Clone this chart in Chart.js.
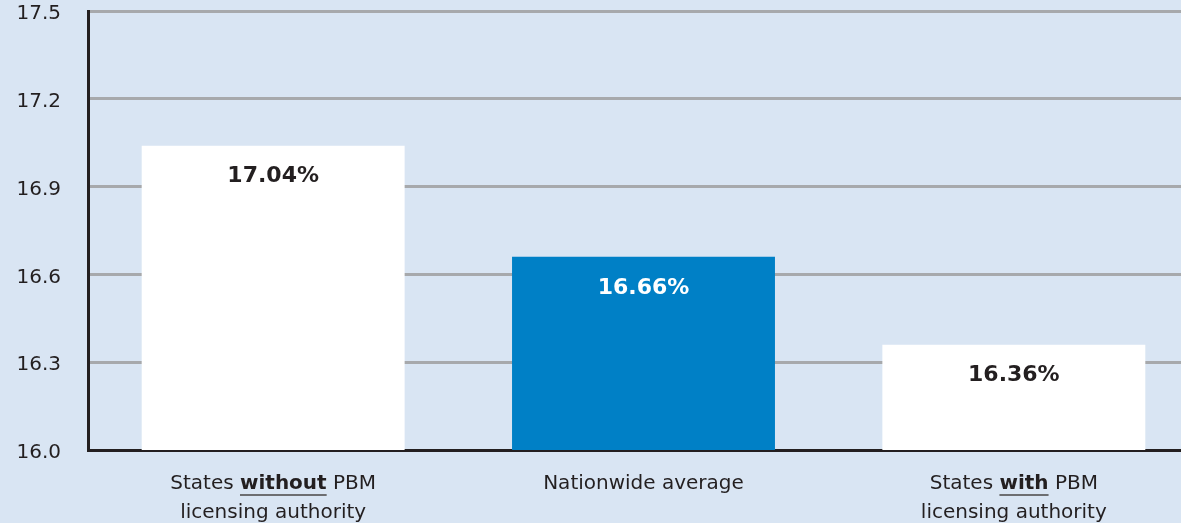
<!DOCTYPE html>
<html>
<head>
<meta charset="utf-8">
<script src="https://cdn.jsdelivr.net/npm/chart.js@4"></script>
<style>
  html, body { margin: 0; padding: 0; background: #d9e5f3; overflow: hidden; }
  #wrap { width: 1199px; height: 523px; }
</style>
</head>
<body>
<div id="wrap"><canvas id="c" width="1199" height="523"></canvas></div>
<script>
// data
const categories = ['without', 'average', 'with'];
const labelLines = [
  [['States ', false], ['without', true], [' PBM', false]],
  [['Nationwide average', false]],
  [['States ', false], ['with', true], [' PBM', false]]
];
const secondLines = ['licensing authority', '', 'licensing authority'];
const values = [17.04, 16.66, 16.36];
const valueLabels = ['17.04%', '16.66%', '16.36%'];
const yTicks = [16.0, 16.3, 16.6, 16.9, 17.2, 17.5];

const FONT = '"DejaVu Sans", sans-serif';
const DARK = '#231f20';

// value labels inside the bars + the two-line category labels under the axis
const labelsPlugin = {
  id: 'labels',
  afterDatasetsDraw(chart) {
    const ctx = chart.ctx;
    const meta = chart.getDatasetMeta(0);
    ctx.save();
    ctx.textAlign = 'center';
    ctx.textBaseline = 'middle';
    ctx.font = 'bold 22px ' + FONT;
    meta.data.forEach((bar, i) => {
      ctx.fillStyle = i === 1 ? '#ffffff' : DARK;
      ctx.fillText(valueLabels[i], bar.x, bar.y + 31);
    });

    const xs = chart.scales.x;
    const base = chart.chartArea.bottom;
    ctx.textAlign = 'left';
    categories.forEach((c, i) => {
      const cx = xs.getPixelForValue(i);
      const parts = labelLines[i];
      let w = 0;
      parts.forEach(p => {
        ctx.font = (p[1] ? 'bold ' : '') + '20px ' + FONT;
        w += ctx.measureText(p[0]).width;
      });
      let x = cx - w / 2;
      const y = base + 34;
      parts.forEach(p => {
        ctx.font = (p[1] ? 'bold ' : '') + '20px ' + FONT;
        const pw = ctx.measureText(p[0]).width;
        ctx.fillStyle = DARK;
        ctx.fillText(p[0], x, y);
        if (p[1]) {
          ctx.fillStyle = '#6d6e71';
          ctx.fillRect(x, y + 10, pw, 2);
        }
        x += pw;
      });
      ctx.font = '20px ' + FONT;
      ctx.fillStyle = DARK;
      ctx.textAlign = 'center';
      ctx.fillText(secondLines[i], cx, y + 29);
      ctx.textAlign = 'left';
    });
    ctx.restore();
  }
};

new Chart(document.getElementById('c'), {
  type: 'bar',
  data: {
    labels: categories,
    datasets: [{
      data: values,
      backgroundColor: ['#ffffff', '#0080c6', '#ffffff'],
      borderWidth: 0,
      barPercentage: 0.71,
      categoryPercentage: 1
    }]
  },
  options: {
    responsive: false,
    animation: false,
    layout: { padding: { top: 11, bottom: 73, right: 0, left: 0 } },
    plugins: { legend: { display: false }, tooltip: { enabled: false } },
    scales: {
      x: {
        ticks: { display: false },
        grid: { display: false, drawTicks: false },
        border: { color: DARK, width: 3 }
      },
      y: {
        min: 16.0,
        max: 17.5,
        afterFit(scale) {
          scale.width = 88;
          scale.paddingTop = 0;
          scale.paddingBottom = 0;
        },
        afterBuildTicks(scale) { scale.ticks = yTicks.map(v => ({ value: v })); },
        ticks: {
          padding: 27,
          labelOffset: 3,
          color: DARK,
          font: { family: FONT, size: 20 },
          callback: v => v.toFixed(1)
        },
        grid: { color: '#a7a9ac', lineWidth: 3, drawTicks: false },
        border: { color: DARK, width: 3 }
      }
    }
  },
  plugins: [labelsPlugin]
});
</script>
</body>
</html>
